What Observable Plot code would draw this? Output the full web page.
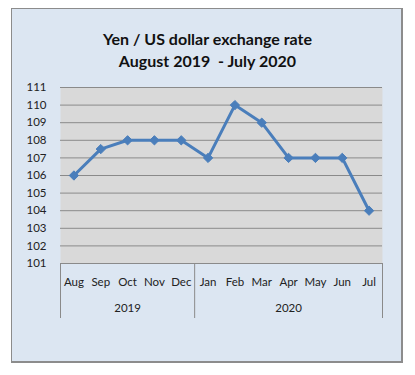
<!DOCTYPE html>
<html>
<head>
<meta charset="utf-8">
<script src="https://cdn.jsdelivr.net/npm/d3@7"></script>
<script src="https://cdn.jsdelivr.net/npm/@observablehq/plot@0.6"></script>
<style>
  html, body { margin: 0; padding: 0; background: #ffffff; width: 415px; height: 375px; overflow: hidden; }
  #frame { position: absolute; left: 11px; top: 8px; width: 389px; height: 352px; background: #dce6f2; border: 1px solid #8c8c8c; border-right-width: 2px; border-bottom-width: 2px; }
  #title { position: absolute; left: 0; top: 28px; width: 415px; text-align: center; font-family: Lato, "Open Sans", sans-serif; font-weight: bold; font-size: 16px; line-height: 22px; color: #111; }
  #chart { position: absolute; left: 0; top: 78px; }
</style>
</head>
<body>
<div id="frame"></div>
<div id="title">Yen / US dollar exchange rate<br>August 2019&nbsp; - July 2020</div>
<div id="chart"></div>
<script>
const months = ["Aug","Sep","Oct","Nov","Dec","Jan","Feb","Mar","Apr","May","Jun","Jul"];
const monthYears = ["2019","2019","2019","2019","2019","2020","2020","2020","2020","2020","2020","2020"];
const rates = [106, 107.5, 108, 108, 108, 107, 110, 109, 107, 107, 107, 104];
const yTicks = [101,102,103,104,105,106,107,108,109,110,111];
const years = ["2019","2020"];

const data = months.map((m, i) => ({i, month: m, year: monthYears[i], rate: rates[i]}));
const yearGroups = years.map(y => {
  const idx = data.filter(d => d.year === y).map(d => d.i);
  return {year: y, center: d3.mean(idx), start: d3.min(idx) - 0.5, end: d3.max(idx) + 0.5};
});
const separators = Array.from(new Set(yearGroups.flatMap(g => [g.start, g.end])));

const font = "Lato, 'Open Sans', sans-serif";
const chart = Plot.plot({
  width: 415,
  height: 250,
  marginLeft: 60,
  marginRight: 33,
  marginTop: 9,
  marginBottom: 65,
  style: {background: "transparent", fontFamily: font, fontSize: "11.5px", color: "#222"},
  x: {type: "linear", domain: [-0.5, months.length - 0.5], axis: null},
  y: {domain: [101, 111], axis: null},
  marks: [
    Plot.frame({fill: "#d9d9d9", stroke: null}),
    Plot.ruleY(yTicks, {stroke: "#8a8a8a", strokeWidth: 1}),
    Plot.axisY({ticks: yTicks, tickSize: 0, tickPadding: 14, tickFormat: d => String(d), label: null, fontSize: 11.5, fill: "#222"}),
    Plot.axisX({ticks: separators, tickSize: 55, tickFormat: () => "", label: null, stroke: "#8a8a8a"}),
    Plot.axisX({ticks: data.map(d => d.i), tickSize: 0, tickPadding: 14, tickFormat: i => months[i], label: null, fontSize: 11.5, fill: "#222"}),
    Plot.axisX({ticks: yearGroups.map(g => g.center), tickSize: 0, tickPadding: 40, tickFormat: c => yearGroups.find(g => g.center === c).year, label: null, fontSize: 11.5, fill: "#222"}),
    Plot.line(data, {x: "i", y: "rate", stroke: "#4a7ebb", strokeWidth: 3, strokeLinejoin: "round"}),
    Plot.dot(data, {x: "i", y: "rate", symbol: "diamond2", r: 4.2, fill: "#4a7ebb", stroke: "#4a7ebb", strokeWidth: 1})
  ]
});
document.getElementById("chart").appendChild(chart);
</script>
</body>
</html>
